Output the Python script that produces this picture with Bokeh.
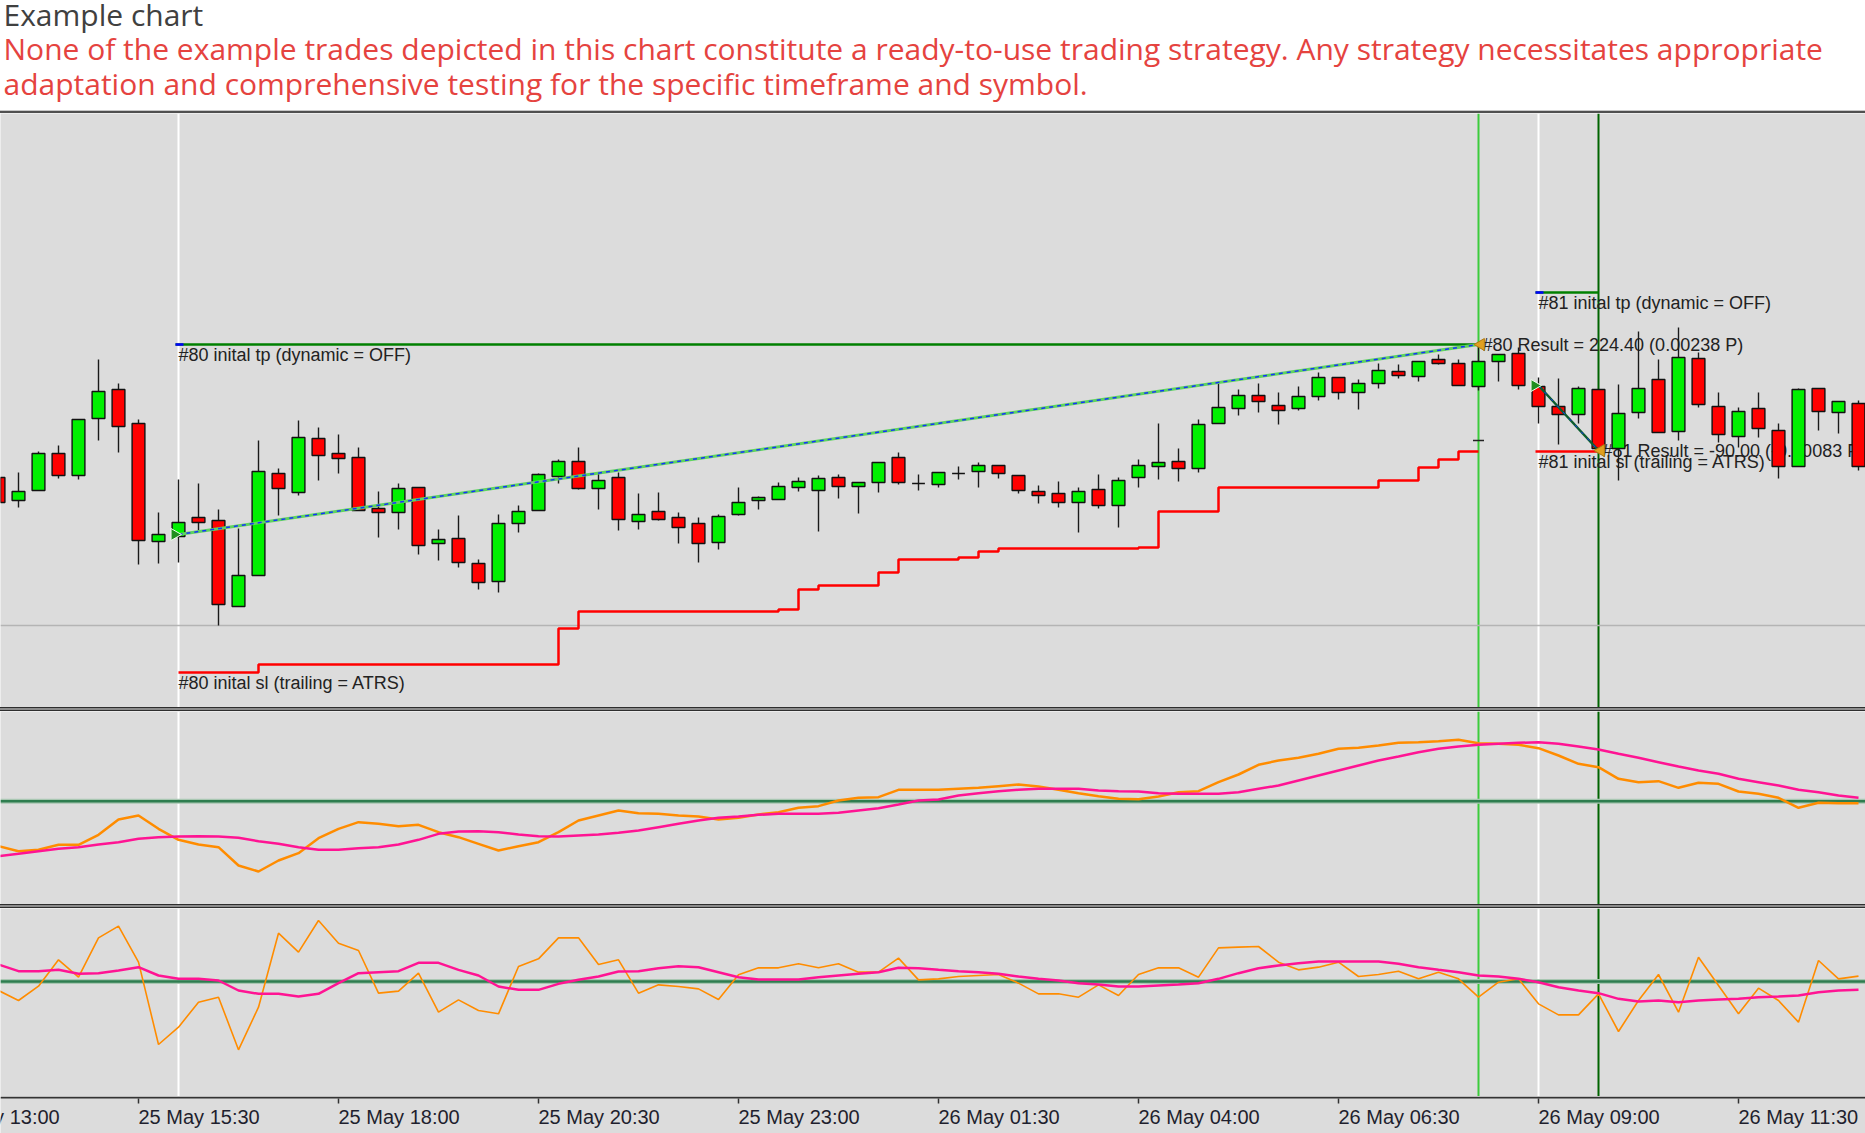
import math
from bokeh.plotting import figure
from bokeh.models import Range1d, Span, ColumnDataSource, Div
from bokeh.layouts import column
from bokeh.embed import file_html
from bokeh.resources import INLINE
from bokeh.core.properties import value

# ---------------- data ----------------
title_text = "Example chart"
subtitle_lines = [
    "None of the example trades depicted in this chart constitute a ready-to-use trading strategy. Any strategy necessitates appropriate",
    "adaptation and comprehensive testing for the specific timeframe and symbol.",
]

# 15-minute bars, bar 0 = 25 May 13:45
opens = [243, 220, 230, 267, 245, 302, 331, 297, 179, 184,
         203, 200, 114, 145, 247, 228, 282, 267, 263, 212,
         208, 233, 177, 182, 157, 139, 197, 210, 244, 259,
         232, 243, 199, 209, 203, 197, 178, 206, 220, 221,
         233, 230, 243, 234, 238, 263, 237, 236, 247, 249,
         255, 245, 229, 227, 218, 231, 215, 243, 254, 259,
         252, 297, 312, 325, 315, 312, 324, 343, 328, 337,
         349, 344, 361, 357, 334, 359, 367, 334, 314, 306,
         331, 272, 308, 341, 289, 362, 314, 284, 312, 290,
         254, 332, 308, 317]
highs = [246, 248, 269, 275, 301, 361, 337, 301, 208, 241,
         237, 211, 192, 280, 252, 300, 293, 286, 273, 229,
         237, 233, 191, 205, 161, 206, 215, 247, 261, 273,
         248, 248, 227, 228, 208, 203, 206, 233, 224, 238,
         243, 245, 246, 238, 258, 268, 246, 248, 254, 258,
         255, 245, 235, 239, 233, 246, 243, 261, 297, 272,
         301, 337, 331, 337, 328, 334, 348, 343, 341, 357,
         356, 359, 366, 361, 376, 366, 373, 343, 342, 334,
         331, 336, 389, 361, 393, 368, 328, 313, 328, 297,
         332, 332, 319, 320]
lows = [214, 213, 230, 242, 241, 280, 268, 156, 157, 158,
        190, 95, 114, 145, 205, 225, 240, 247, 210, 183,
        191, 166, 160, 153, 131, 128, 188, 210, 237, 231,
        211, 190, 191, 200, 177, 158, 171, 205, 211, 221,
        229, 189, 222, 207, 228, 236, 230, 233, 241, 233,
        242, 227, 217, 213, 188, 212, 193, 233, 241, 239,
        248, 297, 305, 308, 296, 310, 320, 321, 311, 332,
        342, 339, 356, 335, 330, 339, 331, 297, 276, 297,
        270, 240, 302, 288, 280, 313, 278, 273, 283, 242,
        254, 290, 287, 250]
closes = [218, 229, 267, 245, 301, 329, 294, 180, 186, 198,
          198, 116, 145, 249, 232, 283, 265, 262, 210, 208,
          232, 175, 181, 158, 138, 197, 209, 246, 259, 232,
          240, 201, 206, 201, 193, 177, 204, 218, 223, 234,
          239, 242, 234, 238, 258, 238, 237, 248, 247, 255,
          247, 230, 225, 218, 229, 215, 240, 255, 258, 252,
          296, 313, 325, 319, 310, 324, 343, 328, 337, 350,
          345, 359, 357, 335, 359, 366, 335, 314, 306, 332,
          272, 307, 332, 288, 363, 316, 286, 309, 292, 254,
          331, 309, 319, 254]

# trailing stop of trade #80 (one value per bar, bars 9..74)
trail_sl_start = 9
trail_sl = [48, 48, 48, 48,
            56, 56, 56, 56, 56, 56, 56, 56, 56, 56, 56, 56, 56, 56, 56,
            92,
            109, 109, 109, 109, 109, 109, 109, 109, 109, 109,
            111, 131, 135, 135, 135, 148, 161, 161, 161, 163, 169,
            172, 172, 172, 172, 172, 172, 172, 173,
            209, 209, 209,
            233, 233, 233, 233, 233, 233, 233, 233,
            240, 240, 253, 261, 269, 269]
last_sl_mark = 280
price_level = 95

trade_ids = ["#80", "#81"]
entry_bar = [9, 77]
exit_bar = [74, 80]
entry_price = [186, 335]
exit_price = [376, 270]
tp_price = [376, 428]
sl_price = [48, 269]
result_text = ["224.40 (0.00238 P)", "-90.00 (-0.00083 P)"]

# indicator panel 1
osc1_fast = [-135, -150, -146, -131, -131, -101, -55, -43, -83, -116,
             -130, -138, -193, -211, -178, -156, -111, -83, -63, -68,
             -75, -71, -93, -108, -128, -148, -135, -123, -93, -58,
             -43, -28, -36, -38, -43, -46, -55, -50, -40, -33,
             -20, -15, 2, 10, 12, 34, 34, 34, 37, 40,
             45, 50, 44, 34, 24, 15, 7, 6, 14, 27,
             30, 57, 80, 109, 122, 130, 142, 157, 160, 167,
             175, 177, 180, 184, 174, 172, 169, 159, 137, 112,
             102, 67, 57, 60, 40, 55, 52, 29, 22, 10,
             -20, -5, -6, -6]
osc1_slow = [-165, -158, -150, -143, -138, -130, -123, -113, -108, -106,
             -105, -106, -110, -120, -128, -138, -146, -146, -141, -138,
             -130, -116, -98, -91, -90, -93, -100, -105, -106, -103,
             -100, -95, -88, -78, -68, -58, -50, -46, -41, -38,
             -38, -38, -35, -28, -21, -10, 2, 5, 17, 24,
             30, 34, 37, 37, 37, 32, 30, 29, 24, 22,
             22, 22, 27, 37, 47, 62, 77, 92, 107, 122,
             134, 147, 157, 164, 169, 172, 175, 177, 172, 164,
             155, 142, 130, 117, 104, 92, 82, 67, 57, 47,
             34, 27, 17, 10]
# indicator panel 2
osc2_fast = [-27, -57, -14, 65, 13, 131, 166, 58, -189, -137,
             -62, -47, -205, -77, 145, 88, 183, 115, 93, -35,
             -29, 25, -92, -55, -87, -97, 45, 68, 131, 131,
             51, 65, -35, -10, -15, -22, -54, 20, 41, 41,
             53, 41, 53, 28, 28, 70, 5, 8, 15, 18,
             21, -5, -37, -37, -47, -10, -42, 21, 41, 41,
             13, 101, 103, 105, 58, 35, 43, 58, 15, 21,
             31, 8, 28, 8, -47, -2, 8, -67, -100, -100,
             -37, -150, -57, 21, -92, 73, -12, -97, -20, -57,
             -122, 63, 8, 16]
osc2_slow = [51, 31, 31, 35, 23, 25, 33, 43, 18, 8,
             8, 3, -27, -37, -37, -45, -37, -5, 25, 28,
             31, 56, 56, 35, 18, -15, -25, -25, -7, 5,
             15, 30, 31, 40, 46, 43, 28, 13, 6, 6,
             6, 13, 18, 23, 28, 41, 40, 35, 31, 28,
             23, 15, 8, 3, -5, -9, -15, -15, -12, -9,
             -5, 8, 25, 40, 48, 55, 60, 60, 60, 60,
             53, 43, 35, 28, 18, 15, 8, -2, -17, -27,
             -35, -52, -60, -57, -62, -57, -54, -52, -47, -45,
             -42, -32, -27, -25]

tick_bars = [-3, 7, 17, 27, 37, 47, 57, 67, 77, 87]
tick_labels = ["25 May 13:00", "25 May 15:30", "25 May 18:00", "25 May 20:30",
               "25 May 23:00", "26 May 01:30", "26 May 04:00", "26 May 06:30",
               "26 May 09:00", "26 May 11:30"]

# ---------------- style ----------------
W = 1865
X0, X1 = 0.1, 93.35
BG = "#dcdcdc"
GREEN = "#00f000"
RED = "#ff0000"
ORANGE = "#ff8c00"
PINK = "#ff1493"
LABEL_FONT = value("Liberation Sans")
xr = Range1d(X0, X1)
PX_PER_BAR = W / (X1 - X0)


def make_fig(h, y0, y1, bg=BG, x_range=None):
    p = figure(width=W, height=h, x_range=x_range if x_range is not None else xr,
               y_range=Range1d(y0, y1), output_backend="svg",
               toolbar_location=None, tools="",
               x_axis_location=None, y_axis_location=None,
               min_border=0, background_fill_color=bg, border_fill_color=bg,
               outline_line_color=None)
    p.grid.visible = False
    return p


def bar_div(h, gradient):
    return Div(width=W, height=h, margin=0, text="",
               styles={"background": gradient, "overflow": "hidden"})


def add_vlines(p):
    cols = [("#ffffff", entry_bar[0]), ("#ffffff", entry_bar[1]),
            ("#3ccc3c", exit_bar[0]), ("#006400", exit_bar[1])]
    for c, b in cols:
        p.add_layout(Span(location=b, dimension="height", line_color=c,
                          line_width=2, level="underlay"))


# ---------------- header ----------------
hdr = make_fig(110, 110, 0, bg="#ffffff", x_range=Range1d(0, W))
hdr.text(x=[3], y=[14], text=[title_text], text_font=value("Open Sans"),
         text_font_size="30px", text_color="#404040", text_baseline="alphabetic")
hdr.text(x=[3, 3], y=[48, 83], text=subtitle_lines, text_font=value("Open Sans"),
         text_font_size="30px", text_color="#e5433f", text_baseline="alphabetic")

top_border = bar_div(3, "linear-gradient(#c8c8c8 0px, #c8c8c8 1px, #505050 1px, #505050 3px)")

# ---------------- main price panel ----------------
pm = make_fig(594, 13, 607)
add_vlines(pm)
pm.add_layout(Span(location=price_level, dimension="width", line_color="#b4b4b4",
                   line_width=1.5, level="underlay"))

# trailing stop of #80
sl_x = list(range(trail_sl_start, trail_sl_start + len(trail_sl)))
pm.step(sl_x, trail_sl, mode="after", line_color=RED, line_width=2.5)
# initial sl of #81
pm.line([entry_bar[1] - 0.15, exit_bar[1]], [sl_price[1], sl_price[1]],
        line_color=RED, line_width=2.5)
# take-profit lines
for i in range(2):
    pm.line([entry_bar[i] - 0.15, exit_bar[i]], [tp_price[i], tp_price[i]],
            line_color="#008000", line_width=2.5)
    pm.line([entry_bar[i] - 0.15, entry_bar[i] + 0.25], [tp_price[i], tp_price[i]],
            line_color="#0000ff", line_width=2.5)

# labels (drawn beneath the candles)
lab_x = [entry_bar[0], entry_bar[0], entry_bar[1], entry_bar[1]]
lab_y = [tp_price[0], sl_price[0], tp_price[1], sl_price[1]]
lab_t = [f"{trade_ids[0]} inital tp (dynamic = OFF)",
         f"{trade_ids[0]} inital sl (trailing = ATRS)",
         f"{trade_ids[1]} inital tp (dynamic = OFF)",
         f"{trade_ids[1]} inital sl (trailing = ATRS)"]
pm.text(x=lab_x, y=lab_y, text=lab_t, text_font=LABEL_FONT, text_font_size="18px",
        text_color="#222222", text_baseline="top", x_offset=0, y_offset=0)
pm.text(x=exit_bar, y=exit_price,
        text=[f"{t} Result = {r}" for t, r in zip(trade_ids, result_text)],
        text_font=LABEL_FONT, text_font_size="18px", text_color="#222222",
        text_baseline="middle", x_offset=4)

# candles
idx = list(range(len(opens)))
body_top = [max(o, c) for o, c in zip(opens, closes)]
body_bot = [min(o, c) for o, c in zip(opens, closes)]
fills = [GREEN if c > o else (RED if c < o else "#000000") for o, c in zip(opens, closes)]
csrc = ColumnDataSource(dict(x=idx, h=highs, l=lows, t=body_top, b=body_bot, f=fills))
pm.segment(x0="x", y0="l", x1="x", y1="h", source=csrc, line_color="#1a1a1a", line_width=1.4)
pm.vbar(x="x", width=0.64, top="t", bottom="b", source=csrc, fill_color="f",
        line_color="#111111", line_width=1.4)

# trade paths
pm.line([entry_bar[0], exit_bar[0]], [entry_price[0], exit_price[0]],
        line_color="#5fd35f", line_width=3)
pm.line([entry_bar[0], exit_bar[0]], [entry_price[0], exit_price[0]],
        line_color="#1530ff", line_width=1.5, line_dash="4 4")
pm.line([entry_bar[1], exit_bar[1]], [entry_price[1], exit_price[1]],
        line_color="#0b5d2e", line_width=2.5)
pm.line([entry_bar[1], exit_bar[1]], [entry_price[1], exit_price[1]],
        line_color="#1530ff", line_width=1, line_dash="3 6")

# markers
pm.scatter([b - 0.2 for b in entry_bar], entry_price, marker="triangle", size=12,
           angle=-math.pi / 2, fill_color="#1f8f1f", line_color="#f0fff0", line_width=1)
pm.scatter([b + 0.12 for b in exit_bar], exit_price, marker="triangle", size=12,
           angle=math.pi / 2, fill_color="#e0a020", line_color="#b07a10", line_width=1)
pm.scatter([exit_bar[0]], [last_sl_mark], marker="dash", size=11,
           line_color="#222222", line_width=1.5)

SEP = "linear-gradient(#2e2e2e 0px, #2e2e2e 1px, #8c8c8c 1px, #8c8c8c 3px, #2e2e2e 3px, #2e2e2e 4px)"
sep1 = bar_div(4, SEP)

# ---------------- indicator panel 1 ----------------
p2 = make_fig(193, -310, 269)
add_vlines(p2)
p2.add_layout(Span(location=0, dimension="width", line_color="#a9c7b2", line_width=5, level="underlay"))
p2.add_layout(Span(location=0, dimension="width", line_color="#2e7d4f", line_width=2.5, level="underlay"))
p2.line(idx, osc1_fast, line_color=ORANGE, line_width=2.5)
p2.line(idx, osc1_slow, line_color=PINK, line_width=2.5)

sep2 = bar_div(4, SEP)

# ---------------- indicator panel 2 ----------------
p3 = make_fig(188, -345, 219)
add_vlines(p3)
p3.add_layout(Span(location=0, dimension="width", line_color="#a9c7b2", line_width=5, level="underlay"))
p3.add_layout(Span(location=0, dimension="width", line_color="#2e7d4f", line_width=2.5, level="underlay"))
p3.line(idx, osc2_fast, line_color=ORANGE, line_width=1.6)
p3.line(idx, osc2_slow, line_color=PINK, line_width=2.5)

# ---------------- time axis strip ----------------
pa = make_fig(37, 37, 0)
pa.add_layout(Span(location=1, dimension="width", line_color="#333333", line_width=2))
pa.segment(x0=tick_bars, y0=[2] * len(tick_bars), x1=tick_bars, y1=[7] * len(tick_bars),
           line_color="#333333", line_width=1.5)
anchor_x = [max(t, X0 + 0.02) for t in tick_bars]
offs = [(t - a) * PX_PER_BAR for t, a in zip(tick_bars, anchor_x)]
asrc = ColumnDataSource(dict(x=anchor_x, y=[20] * len(tick_bars), t=tick_labels, o=offs))
pa.text(x="x", y="y", text="t", x_offset="o", source=asrc, text_font=LABEL_FONT,
        text_font_size="20px", text_color="#1f1f2e", text_baseline="alphabetic")

layout = column(hdr, top_border, pm, sep1, p2, sep2, p3, pa, spacing=0)
open("out.html", "w").write(file_html(layout, INLINE))
